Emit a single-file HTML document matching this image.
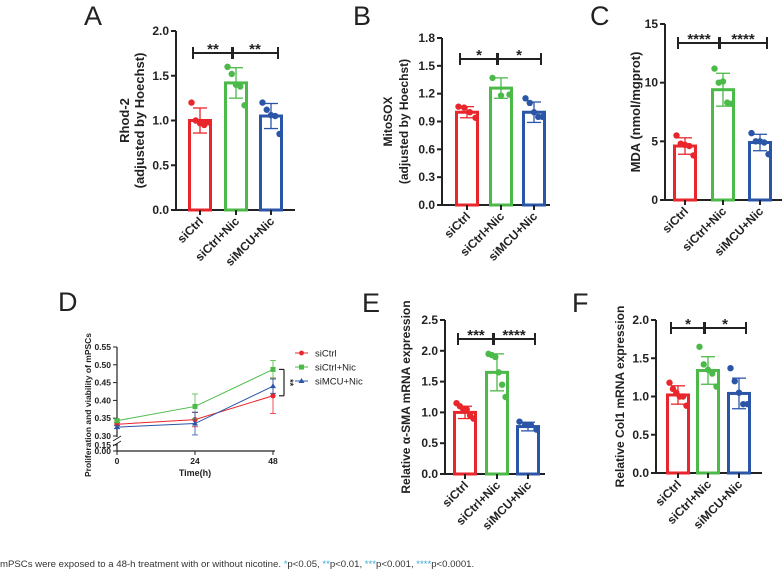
<!DOCTYPE html>
<html><head><meta charset="utf-8"><style>
html,body{margin:0;padding:0;background:#fff;width:784px;height:573px;overflow:hidden}
svg{display:block}
text{font-family:"Liberation Sans",sans-serif}
.t{font-weight:bold;font-size:12px;fill:#222}
.L{font-size:27px;fill:#222}
</style></head><body>
<svg id="s" width="784" height="573" xmlns="http://www.w3.org/2000/svg">
<text x="0" y="567" font-family="DejaVu Sans" font-size="9.6" fill="#333">mPSCs were exposed to a 48-h treatment with or without nicotine. <tspan fill="#3aa8d8">*</tspan>p&lt;0.05, <tspan fill="#3aa8d8">**</tspan>p&lt;0.01, <tspan fill="#3aa8d8">***</tspan>p&lt;0.001, <tspan fill="#3aa8d8">****</tspan>p&lt;0.0001.</text>
</svg>
<script>
const groups=["siCtrl","siCtrl+Nic","siMCU+Nic"];
const colors=["#e8262b","#4cba49","#2b56a8"];
const aMeans=[1.0,1.42,1.05];const aSD=[0.14,0.17,0.14];
const aPts=[[1.2,1.0,0.97,0.95,0.98],[1.6,1.52,1.4,1.38,1.17],[1.2,1.12,1.06,1.05,0.85]];
const aTicks=[0,0.5,1.0,1.5,2.0];
const bMeans=[1.0,1.26,1.0];const bSD=[0.06,0.11,0.11];
const bPts=[[1.06,1.05,1.0,0.94],[1.37,1.18,1.19],[1.15,1.1,1.0,0.95,0.95]];
const bTicks=[0,0.3,0.6,0.9,1.2,1.5,1.8];
const cMeans=[4.6,9.4,4.9];const cSD=[0.7,1.4,0.7];
const cPts=[[5.5,4.8,4.7,4.6,3.8],[11.2,10.0,10.1,8.3,8.2],[5.7,5.0,5.0,4.9,3.9]];
const cTicks=[0,5,10,15];
const eMeans=[1.0,1.65,0.77];const eSD=[0.1,0.3,0.07];
const ePts=[[1.15,1.1,1.05,1.05,0.95,0.9],[1.95,1.93,1.9,1.65,1.45,1.25],[0.85,0.8,0.8,0.72]];
const eTicks=[0,0.5,1.0,1.5,2.0,2.5];
const fMeans=[1.02,1.34,1.04];const fSD=[0.12,0.18,0.2];
const fPts=[[1.18,1.1,1.05,1.0,1.0,0.88],[1.65,1.42,1.35,1.3,1.13],[1.37,1.2,1.05,0.9,0.9]];
const fTicks=[0,0.5,1.0,1.5,2.0];
const dTimes=[0,24,48];
const dCtrl=[0.333,0.346,0.413];const dCtrlErr=[0.004,0.02,0.05];
const dNic=[0.343,0.383,0.487];const dNicErr=[0.004,0.035,0.025];
const dMCU=[0.325,0.335,0.440];const dMCUErr=[0.004,0.032,0.02];
const dTicksTop=[0.30,0.35,0.40,0.45,0.50,0.55];const dTicksBot=[0,0.15];

const S=document.getElementById('s');const NS="http://www.w3.org/2000/svg";
function mk(tag,at,txt){const e=document.createElementNS(NS,tag);for(const k in at)e.setAttribute(k,at[k]);if(txt!==undefined)e.textContent=txt;S.appendChild(e);return e;}
function ln(x1,y1,x2,y2,c,w){return mk('line',{x1,y1,x2,y2,stroke:c,'stroke-width':w});}

function bar(p){
 const y=v=>p.y0-(v/p.max)*(p.y0-p.y1);
 const L=mk('text',{x:p.lx,y:p.ly,class:'L'},p.letter);
 
 
 const ax=ln(p.ax,p.y1,p.ax,p.y0+1,'#222',2);
 
 
 const bx=ln(p.ax-1,p.y0,p.xe,p.y0,'#222',2);
 
 
 p.ticks.forEach(t=>{ln(p.ax-5,y(t),p.ax,y(t),'#222',2);
  const tt=mk('text',{x:p.ax-7,y:y(t)+4,class:'t','text-anchor':'end'},p.fmt(t));
  
  });
 p.title.forEach((s,i)=>{const tt=mk('text',{x:0,y:0,class:'t','text-anchor':'middle',transform:`translate(${p.tx[i]},${(p.y0+p.y1)/2}) rotate(-90)`},s);
  tt.style.fontSize=(p.tfs||12)+'px';
  
  });
 const bw=21;
 groups.forEach((g,i)=>{const cx=p.cx[i],c=colors[i],m=p.means[i],sd=p.sd[i];
  const r=mk('rect',{x:cx-bw/2,y:y(m),width:bw,height:p.y0-y(m),fill:'#fff',stroke:c,'stroke-width':3});
  
  
  ln(cx,y(m+sd),cx,y(m-sd),c,1.3);ln(cx-7,y(m+sd),cx+7,y(m+sd),c,1.3);ln(cx-7,y(m-sd),cx+7,y(m-sd),c,1.3);
  const n=p.pts[i].length;
  p.pts[i].forEach((v,j)=>{const dx=n>1?(j/(n-1)-0.5)*17:0;
   const d=mk('circle',{cx:cx+dx,cy:y(v),r:3.2,fill:c});
   
   });
  ln(cx,p.y0,cx,p.y0+5,'#222',2);
  const lab=mk('text',{x:0,y:0,class:'t','text-anchor':'end',transform:`translate(${cx+4},${p.y0+12}) rotate(-45)`},g);
  
  });
 p.sig.forEach((s,k)=>{const a=p.cx[k]-7+ (k?3:0),b=p.cx[k+1]+(k?7:-3),yy=p.sy;
  ln(a,yy,b,yy,'#222',2);ln(a,yy-6,a,yy+6,'#222',2);ln(b,yy-6,b,yy+6,'#222',2);
  const st=mk('text',{x:(a+b)/2,y:yy+1,class:'t','text-anchor':'middle'},s);
  st.style.fontSize='15px';
  
  });
}
bar({letter:'A',lx:84,ly:25,ax:176,y0:210,y1:31,xe:295,max:2.0,ticks:aTicks,fmt:t=>t.toFixed(1),title:['Rhod-2','(adjusted by Hoechst)'],tx:[129,144],tfs:13,cx:[200,236,271],means:aMeans,sd:aSD,pts:aPts,sig:['**','**'],sy:53});
bar({letter:'B',lx:353,ly:25,ax:442,y0:205,y1:38,xe:550,max:1.8,ticks:bTicks,fmt:t=>t.toFixed(1),title:['MitoSOX','(adjusted by Hoechst)'],tx:[392,408],tfs:12,cx:[467,501,534],means:bMeans,sd:bSD,pts:bPts,sig:['*','*'],sy:59});
bar({letter:'C',lx:590,ly:25,ax:665,y0:200,y1:24,xe:782,max:15,ticks:cTicks,fmt:t=>String(t),title:['MDA (nmol/mgprot)'],tx:[640],tfs:13,cx:[685,723,760],means:cMeans,sd:cSD,pts:cPts,sig:['****','****'],sy:43});
bar({letter:'E',lx:362,ly:312,ax:445,y0:474,y1:320,xe:545,max:2.5,ticks:eTicks,fmt:t=>t.toFixed(1),title:['Relative α-SMA mRNA expression'],tx:[410],tfs:12,cx:[465,497,528],means:eMeans,sd:eSD,pts:ePts,sig:['***','****'],sy:339});
bar({letter:'F',lx:572,ly:312,ax:656,y0:473,y1:320,xe:762,max:2.0,ticks:fTicks,fmt:t=>t.toFixed(1),title:['Relative Col1 mRNA expression'],tx:[624],tfs:12,cx:[678,708,739],means:fMeans,sd:fSD,pts:fPts,sig:['*','*'],sy:328});

// Panel D
const dL=mk('text',{x:58,y:311,class:'L'},'D');


const DX=t=>117+t/48*156;
const DY=v=>v>=0.3?436-(v-0.3)/0.25*89:451-v/0.15*6;
const dax=ln(117,347,117,452,'#222',1.2);


mk('rect',{x:112,y:437,width:10,height:6,fill:'#fff'});
ln(113,441,121,436,'#222',1);ln(113,446,121,441,'#222',1);
const dxa=ln(117,451,275,451,'#222',1.2);


dTicksTop.concat(dTicksBot).forEach(t=>{ln(113,DY(t),117,DY(t),'#222',1);
 const tt=mk('text',{x:111,y:DY(t)+3,class:'t','text-anchor':'end'},t.toFixed(2));
 tt.style.fontSize='8.5px';
 
 });
dTimes.forEach(t=>{ln(DX(t),451,DX(t),455,'#222',1);
 const tt=mk('text',{x:DX(t),y:464,class:'t','text-anchor':'middle'},String(t));
 tt.style.fontSize='8.5px';
 
 });
const xt=mk('text',{x:195,y:476,class:'t','text-anchor':'middle'},'Time(h)');
xt.style.fontSize='9px';


const yt=mk('text',{x:0,y:0,class:'t','text-anchor':'middle',transform:'translate(91,405) rotate(-90)'},'Proliferation and viability of mPSCs');
yt.style.fontSize='8.5px';


const series=[[dCtrl,dCtrlErr,'siCtrl'],[dNic,dNicErr,'siCtrl+Nic'],[dMCU,dMCUErr,'siMCU+Nic']];
series.forEach((s,i)=>{const c=colors[i];
 const pl=mk('polyline',{points:dTimes.map((t,j)=>DX(t)+','+DY(s[0][j])).join(' '),fill:'none',stroke:c,'stroke-width':1});
 
 
 dTimes.forEach((t,j)=>{const x=DX(t),v=s[0][j],e=s[1][j];
  ln(x,DY(v+e),x,DY(v-e),c,0.8);ln(x-3,DY(v+e),x+3,DY(v+e),c,0.8);ln(x-3,DY(v-e),x+3,DY(v-e),c,0.8);
  const m=i==0?mk('circle',{cx:x,cy:DY(v),r:2.6,fill:c}):i==1?mk('rect',{x:x-2.5,y:DY(v)-2.5,width:5,height:5,fill:c}):mk('polygon',{points:`${x},${DY(v)-3} ${x-3},${DY(v)+2} ${x+3},${DY(v)+2}`,fill:c});
  
  });
 const ly=353+i*14;
 ln(295,ly,308,ly,c,1);
 if(i==0)mk('circle',{cx:301.5,cy:ly,r:2.4,fill:c});else if(i==1)mk('rect',{x:299,y:ly-2.4,width:5,height:5,fill:c});else mk('polygon',{points:`301.5,${ly-3} 298.5,${ly+2} 304.5,${ly+2}`,fill:c});
 const lt=mk('text',{x:315,y:ly+3.5,class:'t'},s[2]);
 lt.style.fontSize='9.5px';lt.style.fontWeight='normal';
 
 });
ln(279,DY(0.487),284,DY(0.487),'#222',1.2);ln(284,DY(0.487),284,DY(0.413),'#222',1.2);ln(279,DY(0.413),284,DY(0.413),'#222',1.2);
const ds=mk('text',{x:0,y:0,class:'t','text-anchor':'middle',transform:`translate(287,${(DY(0.487)+DY(0.413))/2}) rotate(90)`},'**');
ds.style.fontSize='9px';


</script>
</body></html>
